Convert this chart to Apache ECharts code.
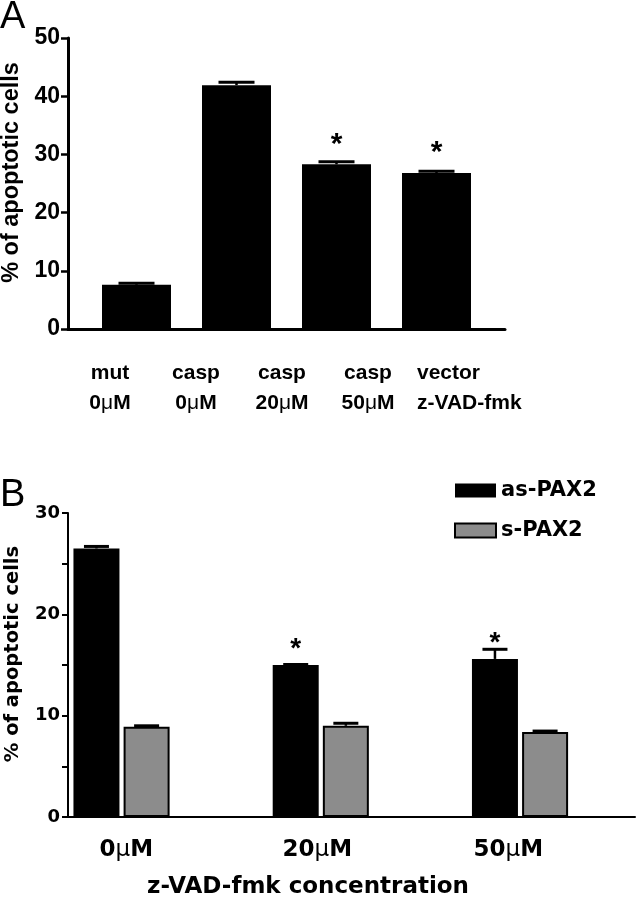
<!DOCTYPE html>
<html><head><meta charset="utf-8">
<script src="https://cdn.jsdelivr.net/npm/echarts@6/dist/echarts.min.js"></script>
<style>html,body{margin:0;padding:0;background:#fff}#c{width:637px;height:900px}</style>
</head><body><div id="c"></div>
<script>
// ---------- Panel A data ----------
const vectorA = ['mut', 'casp', 'casp', 'casp'];
const zvadA = ['0μM', '0μM', '20μM', '50μM'];
const rowTitlesA = ['vector', 'z-VAD-fmk'];
const apoptosisA = [7.6, 41.9, 28.3, 26.8];
const errorA = [0.25, 0.5, 0.45, 0.3];
const signifA = [0, 0, 1, 1];
const yTicksA = [0, 10, 20, 30, 40, 50];
// ---------- Panel B data ----------
const concB = ['0μM', '20μM', '50μM'];
const seriesNamesB = ['as-PAX2', 's-PAX2'];
const asPax2 = [26.5, 15.0, 15.6];
const asPax2Err = [0.2, 0.05, 0.95];
const sPax2 = [8.9, 9.0, 8.4];
const sPax2Err = [0.1, 0.25, 0.08];
const signifB = [0, 1, 1];
const yTicksB = [0, 10, 20, 30];
const xTitleB = 'z-VAD-fmk concentration';
const yTitle = '% of apoptotic cells';
const panelLetters = ['A', 'B'];

const ARIAL = 'Liberation Sans, Arial, sans-serif';
const DEJA = 'DejaVu Sans, sans-serif';
const BAR_W_B = 46, GAP_B = 0.09;
const minA = yTicksA[0], maxA = yTicksA[yTicksA.length - 1];
const minB = yTicksB[0], maxB = yTicksB[yTicksB.length - 1];

function makeErr(offset, capW, starGap, starSize, fam) {
  return function (params, api) {
    const x = api.value(0), v = api.value(1), e = api.value(2), s = api.value(3);
    const top = api.coord([x, v]);
    const cap = api.coord([x, v + e]);
    const cx = top[0] + offset;
    const children = [
      {type: 'line', shape: {x1: cx, y1: top[1], x2: cx, y2: cap[1]}, style: {stroke: '#000', lineWidth: 2.5}},
      {type: 'line', shape: {x1: cx - capW / 2, y1: cap[1], x2: cx + capW / 2, y2: cap[1]}, style: {stroke: '#000', lineWidth: 3}}
    ];
    if (s) children.push({type: 'text', x: cx, y: top[1] - starGap,
      style: {text: '*', fontSize: starSize, fontWeight: 'bold', fontFamily: fam, fill: '#000', align: 'center', verticalAlign: 'middle'}});
    return {type: 'group', children};
  };
}

const hiddenBits = {axisLine: {show: false}, axisTick: {show: false}, axisLabel: {show: false}, splitLine: {show: false}};
const G = (o) => Object.assign({outerBoundsMode: 'none', containLabel: false}, o);

const option = {
  animation: false,
  backgroundColor: '#fff',
  grid: [
    G({left: 68, top: 38, width: 437, height: 291}),      // 0: A frame (axes)
    G({left: 86.5, top: 38, width: 400, height: 291}),    // 1: A bars
    G({left: 67, top: 38, width: 430, height: 291}),      // 2: A labels
    G({left: 68, top: 513, width: 567, height: 304}),     // 3: B frame
    G({left: 21.9, top: 513, width: 597.75, height: 304}),// 4: B bars
    G({left: 30.8, top: 513, width: 573, height: 304})    // 5: B labels
  ],
  xAxis: [
    {type: 'value', gridIndex: 0, min: 0, max: 1, axisLine: {show: true, lineStyle: {color: '#000', width: 3}},
      axisTick: {show: false}, axisLabel: {show: false}, splitLine: {show: false}},
    Object.assign({type: 'category', gridIndex: 1, data: vectorA.map((v, i) => v + ' ' + zvadA[i])}, hiddenBits),
    {type: 'category', gridIndex: 2, data: vectorA.map((v, i) => v + '\n' + zvadA[i]).concat([rowTitlesA.join('\n')]),
      axisLine: {show: false}, axisTick: {show: false}, splitLine: {show: false},
      axisLabel: {interval: 0, margin: 29, color: '#000', fontFamily: ARIAL, fontWeight: 'bold', fontSize: 21, lineHeight: 30,
        formatter: (val, idx) => idx === vectorA.length
          ? val.split('\n').map(t => '{l|' + t + '}').join('\n')
          : val.replace('μ', '{mu|μ}'),
        rich: {
          l: {width: 74, align: 'left', fontFamily: ARIAL, fontWeight: 'bold', fontSize: 21, lineHeight: 30, color: '#000'},
          mu: {fontFamily: ARIAL, fontWeight: 'normal', fontSize: 21, lineHeight: 30, color: '#000'}
        }}},
    {type: 'value', gridIndex: 3, min: 0, max: 1, axisLine: {show: true, lineStyle: {color: '#000', width: 2}},
      axisTick: {show: false}, axisLabel: {show: false}, splitLine: {show: false}},
    Object.assign({type: 'category', gridIndex: 4, data: concB}, hiddenBits),
    {type: 'category', gridIndex: 5, data: concB,
      axisLine: {show: false}, axisTick: {show: false}, splitLine: {show: false},
      axisLabel: {interval: 0, margin: 22, color: '#000', fontFamily: DEJA, fontWeight: 'bold', fontSize: 23,
        formatter: (val) => val.replace('μ', '{mu|μ}'),
        rich: {mu: {fontFamily: DEJA, fontWeight: 'normal', fontSize: 23, color: '#000'}}}}
  ],
  yAxis: [
    {type: 'value', gridIndex: 0, min: minA, max: maxA, interval: yTicksA[1] - yTicksA[0],
      axisLine: {show: true, lineStyle: {color: '#000', width: 3}},
      axisTick: {show: true, length: 7, lineStyle: {color: '#000', width: 2.5}},
      axisLabel: {margin: 8, color: '#000', fontFamily: ARIAL, fontWeight: 'bold', fontSize: 23},
      splitLine: {show: false},
      name: yTitle, nameLocation: 'middle', nameGap: 44,
      nameTextStyle: {color: '#000', fontFamily: ARIAL, fontWeight: 'bold', fontSize: 23.5, padding: [0, 0, 0, 22]}},
    Object.assign({type: 'value', gridIndex: 1, min: minA, max: maxA}, hiddenBits),
    Object.assign({type: 'value', gridIndex: 2, min: 0, max: 1}, hiddenBits),
    {type: 'value', gridIndex: 3, min: minB, max: maxB, interval: (yTicksB[1] - yTicksB[0]) / 2,
      axisLine: {show: true, lineStyle: {color: '#000', width: 2}},
      axisTick: {show: true, length: 6, lineStyle: {color: '#000', width: 2}},
      axisLabel: {margin: 8, color: '#000', fontFamily: DEJA, fontWeight: 'bold', fontSize: 18,
        formatter: v => yTicksB.indexOf(v) >= 0 ? String(v) : ''},
      splitLine: {show: false},
      name: yTitle, nameLocation: 'middle', nameGap: 45,
      nameTextStyle: {color: '#000', fontFamily: DEJA, fontWeight: 'bold', fontSize: 19.5, padding: [0, 0, 0, 22]}},
    Object.assign({type: 'value', gridIndex: 4, min: minB, max: maxB}, hiddenBits),
    Object.assign({type: 'value', gridIndex: 5, min: 0, max: 1}, hiddenBits)
  ],
  legend: {data: seriesNamesB, orient: 'vertical', left: 454, top: 480, padding: 0, itemWidth: 41, itemHeight: 14, itemGap: 19,
    icon: 'rect', selectedMode: false,
    textStyle: {fontFamily: DEJA, fontWeight: 'bold', fontSize: 21, color: '#000'}},
  graphic: [
    {type: 'text', x: 0, y: 18, style: {text: panelLetters[0], fontFamily: ARIAL, fontSize: 38, fill: '#000', align: 'left', verticalAlign: 'middle'}},
    {type: 'text', x: 0, y: 496, style: {text: panelLetters[1], fontFamily: ARIAL, fontSize: 38, fill: '#000', align: 'left', verticalAlign: 'middle'}},
    {type: 'text', x: 308, y: 887, style: {text: xTitleB, fontFamily: DEJA, fontWeight: 'bold', fontSize: 23, fill: '#000', align: 'center', verticalAlign: 'middle'}}
  ],
  series: [
    {type: 'bar', name: 'A', xAxisIndex: 1, yAxisIndex: 1, barWidth: 69,
      data: apoptosisA, itemStyle: {color: '#000'}},
    {type: 'custom', xAxisIndex: 1, yAxisIndex: 1, encode: {x: 0, y: 1}, z: 3,
      renderItem: makeErr(0, 36, 20, 30, ARIAL),
      data: apoptosisA.map((v, i) => [i, v, errorA[i], signifA[i]])},
    {type: 'bar', name: seriesNamesB[0], xAxisIndex: 4, yAxisIndex: 4, barWidth: BAR_W_B, barGap: (GAP_B * 100) + '%',
      data: asPax2, itemStyle: {color: '#000'}},
    {type: 'bar', name: seriesNamesB[1], xAxisIndex: 4, yAxisIndex: 4, barWidth: BAR_W_B, barGap: (GAP_B * 100) + '%',
      data: sPax2, itemStyle: {color: '#8c8c8c', borderColor: '#000', borderWidth: 2}},
    {type: 'custom', xAxisIndex: 4, yAxisIndex: 4, encode: {x: 0, y: 1}, z: 3,
      renderItem: makeErr(-(BAR_W_B * (1 + GAP_B)) / 2, 25, 16, 28, ARIAL),
      data: asPax2.map((v, i) => [i, v, asPax2Err[i], signifB[i]])},
    {type: 'custom', xAxisIndex: 4, yAxisIndex: 4, encode: {x: 0, y: 1}, z: 3,
      renderItem: makeErr((BAR_W_B * (1 + GAP_B)) / 2, 25, 16, 28, ARIAL),
      data: sPax2.map((v, i) => [i, v, sPax2Err[i], 0])}
  ]
};
const chart = echarts.init(document.getElementById('c'), null, {renderer: 'canvas'});
chart.setOption(option);
</script>
</body></html>
